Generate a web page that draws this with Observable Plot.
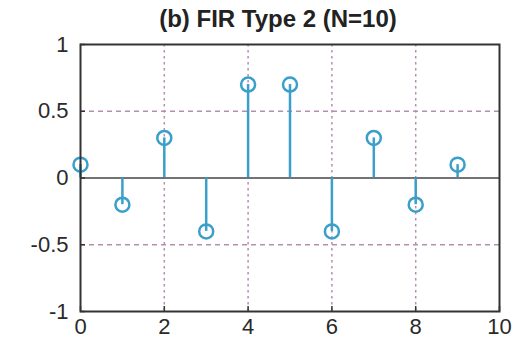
<!DOCTYPE html>
<html><head><meta charset="utf-8">
<script src="https://cdn.jsdelivr.net/npm/d3@7"></script>
<script src="https://cdn.jsdelivr.net/npm/@observablehq/plot@0.6"></script>
<style>body{margin:0;background:#fff;} svg{display:block;}</style>
</head><body><div id="chart"></div>
<script>
const titleText = "(b) FIR Type 2 (N=10)";
const n = [0, 1, 2, 3, 4, 5, 6, 7, 8, 9];
const h = [0.1, -0.2, 0.3, -0.4, 0.7, 0.7, -0.4, 0.3, -0.2, 0.1];
const xTicks = [0, 2, 4, 6, 8, 10];
const yTicks = [-1, -0.5, 0, 0.5, 1];
const xGrid = [2, 4, 6, 8];
const yGrid = [-0.5, 0.5];
const data = n.map((k, i) => ({n: k, h: h[i]}));
const stemColor = "#3a9fc9";

const chart = Plot.plot({
  width: 516, height: 341,
  marginLeft: 80, marginRight: 17, marginTop: 44, marginBottom: 30,
  style: {fontFamily: "Liberation Sans, Arial, sans-serif", background: "#fff"},
  x: {domain: [0, 10], ticks: xTicks, label: null},
  y: {domain: [-1, 1], ticks: yTicks, label: null},
  marks: [
    Plot.ruleX(xGrid, {stroke: "#b48fb0", strokeWidth: 1.5, strokeDasharray: "2.5,3.5"}),
    Plot.ruleY(yGrid, {stroke: "#b48fb0", strokeWidth: 1.5, strokeDasharray: "5,4"}),
    Plot.ruleY([0], {stroke: "#444", strokeWidth: 1.6}),
    Plot.ruleX(data, {x: "n", y1: 0, y2: "h", stroke: stemColor, strokeWidth: 2.5}),
    Plot.dot(data, {x: "n", y: "h", r: 7, stroke: stemColor, strokeWidth: 2.5, fill: "none"}),
    Plot.frame({stroke: "#333", strokeWidth: 2}),
    Plot.axisX(xTicks, {tickSize: -5, tickPadding: 12, fontSize: 22, fill: "#2a2a2a", stroke: "#333", strokeWidth: 1.5, tickFormat: d => String(d)}),
    Plot.axisY(yTicks, {tickSize: -5, tickPadding: 17, fontSize: 22, fill: "#2a2a2a", stroke: "#333", strokeWidth: 1.5, tickFormat: d => String(d)}),
    Plot.text([titleText], {frameAnchor: "top", dy: -35, dx: -12, fontSize: 24, fontWeight: "bold", fill: "#222", fontFamily: "Liberation Sans, Arial, sans-serif"})
  ]
});
document.getElementById("chart").appendChild(chart);
</script></body></html>
